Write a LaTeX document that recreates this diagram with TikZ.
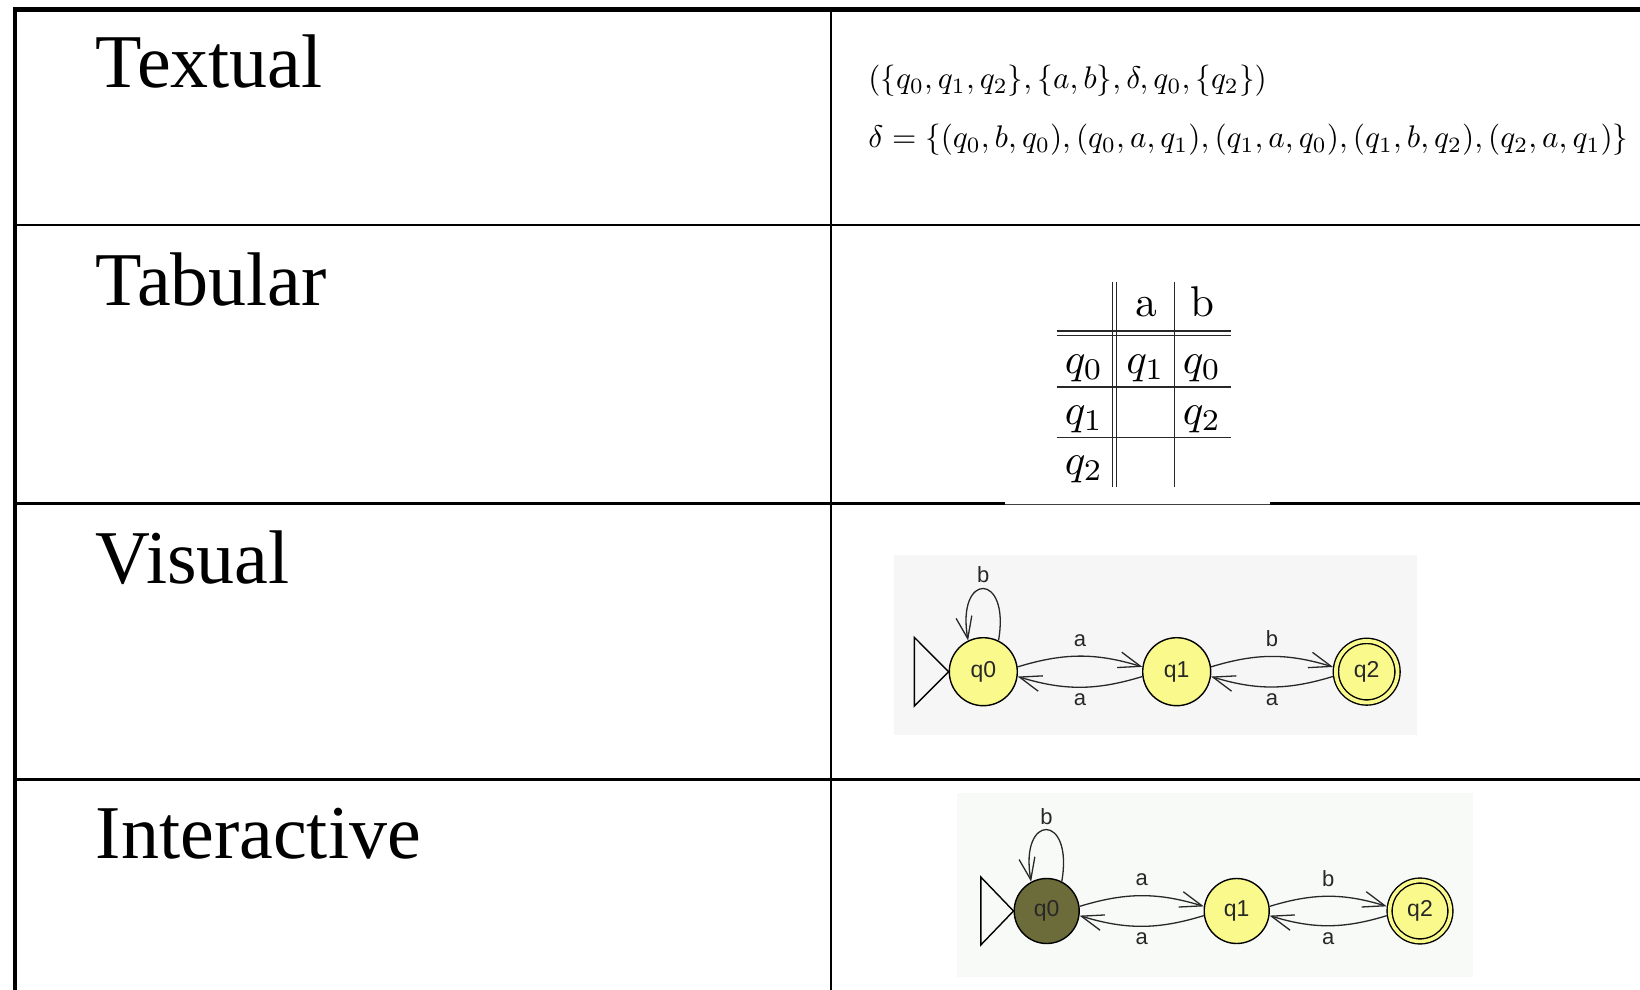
\documentclass[tikz,border=0pt]{standalone}
\usepackage[no-math]{fontspec}
\setmainfont{Liberation Serif}
\newfontfamily\jflapfont{Liberation Sans}
\usepackage{graphicx}
\usetikzlibrary{arrows.meta}
\definecolor{jyellow}{RGB}{250,250,140}
\definecolor{jolive}{RGB}{108,108,58}
\definecolor{edgegray}{RGB}{40,40,40}
\definecolor{bgvis}{RGB}{246,246,246}
\definecolor{bgint}{RGB}{248,250,248}
\definecolor{tabline}{RGB}{40,40,40}
\newsavebox\deltabox
\newcommand\tabm[1]{\scalebox{2.15}{$#1$}}
\begin{document}
\begin{tikzpicture}[x=0.5pt,y=0.5pt,
  rowlabel/.style={anchor=base west, inner sep=0, font=\fontsize{38}{44}\selectfont},
  thickrule/.style={line width=1.05pt, black},
  tabl/.style={line width=0.6pt, tabline},
  tabtxt/.style={anchor=base, inner sep=0},
  trans/.style={draw=edgegray, line width=0.65pt, -{Straight Barb[length=11pt,width=8pt]}},
  lbl/.style={font=\jflapfont\fontsize{11}{13}\selectfont, text=edgegray, inner sep=0},
  st/.style={circle, draw=black, line width=0.7pt, fill=jyellow, minimum size=34pt, inner sep=0,
             font=\jflapfont\fontsize{11.5}{13}\selectfont, text=edgegray},
  acc/.style={double=jyellow, double distance=1.9pt, minimum size=30.8pt, outer sep=1.6pt},
  initmark/.style={draw=black, line width=0.7pt},
]
\useasboundingbox (0,0) rectangle (1640,-990);

% ---------- table frame ----------
\draw[line width=2.25pt, black] (13.3,-9.5) -- (1640,-9.5);
\draw[line width=2pt, black] (15.3,-7.3) -- (15.3,-990);
\draw[thickrule] (830.7,-9.5) -- (830.7,-990);
\draw[thickrule] (15.3,-225) -- (1640,-225);
\draw[thickrule] (15.3,-503.5) -- (1005,-503.5);
\draw[line width=0.55pt, black!75] (1005,-504.3) -- (1270,-504.3);
\draw[thickrule] (1270,-503.5) -- (1640,-503.5);
\draw[thickrule] (15.3,-779.5) -- (1640,-779.5);

% ---------- left column ----------
\node[rowlabel] (lt) at (95.5,-88) {Textual};
\node[rowlabel] (ltab) at (95.5,-305) {Tabular};
\node[rowlabel] (lvis) at (95.5,-583.5) {Visual};
\node[rowlabel] (lint) at (95.5,-858.5) {Interactive};

% ---------- textual ----------
\sbox\deltabox{$\delta=\{(q_0,b,q_0),(q_0,a,q_1),(q_1,a,q_0),(q_1,b,q_2),(q_2,a,q_1)\}$}
\pgfmathsetmacro\mathscale{380/\the\wd\deltabox}
\node[anchor=base west, inner sep=0] (tx1) at (868,-89)
  {\scalebox{\mathscale}{$(\{q_0,q_1,q_2\},\{a,b\},\delta,q_0,\{q_2\})$}};
\node[anchor=base west, inner sep=0] (tx2) at (868,-148)
  {\scalebox{\mathscale}{\usebox\deltabox}};

% ---------- tabular ----------
\draw[tabl] (1112.3,-281.7) -- (1112.3,-486.7);
\draw[tabl] (1116.7,-281.7) -- (1116.7,-486.7);
\draw[tabl] (1174.3,-281.7) -- (1174.3,-486.7);
\draw[tabl] (1056.7,-331) -- (1231,-331);
\draw[tabl] (1056.7,-335.7) -- (1231,-335.7);
\draw[tabl] (1056.7,-387) -- (1231,-387);
\draw[tabl] (1056.7,-437.7) -- (1231,-437.7);
\node[tabtxt] (ha) at (1145.5,-316.7) {\tabm{\mathrm{a}}};
\node[tabtxt] (hb) at (1202,-316.7) {\tabm{\mathrm{b}}};
\node[tabtxt] (r0) at (1084,-373) {\tabm{q_0}};
\node[tabtxt] (r1) at (1084,-424) {\tabm{q_1}};
\node[tabtxt] (r2) at (1084,-474) {\tabm{q_2}};
\node[tabtxt] (r0a) at (1145.5,-373) {\tabm{q_1}};
\node[tabtxt] (r0b) at (1202,-373) {\tabm{q_0}};
\node[tabtxt] (r1b) at (1202,-424) {\tabm{q_2}};

% ---------- visual ----------
\fill[bgvis] (894,-555) rectangle (1417,-735);
\node[st] (v0) at (983.3,-671.7) {q0};
\node[st] (v1) at (1176.7,-671.7) {q1};
\node[st,acc] (v2) at (1366.7,-671.7) {q2};
\draw[initmark] (v0.west) -- ++(-34.3,34.4) -- ++(0,-68.8) -- cycle;
\draw[trans] (v0.64) .. controls +(80:70) and +(100:70) .. node[lbl, pos=0.5, anchor=base, yshift=3.4pt] (vlb) {b} (v0.116);
\draw[trans] (v0.8) to[out=17,in=163] node[lbl, pos=0.5, anchor=base, yshift=5pt] (vla1) {a} (v1.172);
\draw[trans] (v1.188) to[out=-163,in=-17] node[lbl, pos=0.5, anchor=base, yshift=-9.2pt] (vla2) {a} (v0.-8);
\draw[trans] (v1.8) to[out=17,in=163] node[lbl, pos=0.5, anchor=base, yshift=5pt] (vlb2) {b} (v2.172);
\draw[trans] (v2.188) to[out=-163,in=-17] node[lbl, pos=0.5, anchor=base, yshift=-9.2pt] (vla3) {a} (v1.-8);

% ---------- interactive ----------
\fill[bgint] (957,-793) rectangle (1473,-977);
\node[st, fill=jolive, minimum size=32.5pt] (i0) at (1046.7,-911) {q0};
\node[st, minimum size=32.5pt] (i1) at (1236.7,-911) {q1};
\node[st, acc, minimum size=30.4pt, double distance=1.8pt] (i2) at (1420,-911) {q2};
\draw[initmark] (i0.west) -- ++(-32.7,34) -- ++(0,-68) -- cycle;
\draw[trans] (i0.63) .. controls +(80:70) and +(100:70) .. node[lbl, pos=0.5, anchor=base, yshift=2.6pt] (ilb) {b} (i0.118);
\draw[trans] (i0.8) to[out=17,in=163] node[lbl, pos=0.5, anchor=base, yshift=5pt] (ila1) {a} (i1.172);
\draw[trans] (i1.188) to[out=-163,in=-17] node[lbl, pos=0.5, anchor=base, yshift=-9.2pt] (ila2) {a} (i0.-8);
\draw[trans] (i1.8) to[out=17,in=163] node[lbl, pos=0.5, anchor=base, yshift=5pt] (ilb2) {b} (i2.172);
\draw[trans] (i2.188) to[out=-163,in=-17] node[lbl, pos=0.5, anchor=base, yshift=-9.2pt] (ila3) {a} (i1.-8);
\end{tikzpicture}
\end{document}
